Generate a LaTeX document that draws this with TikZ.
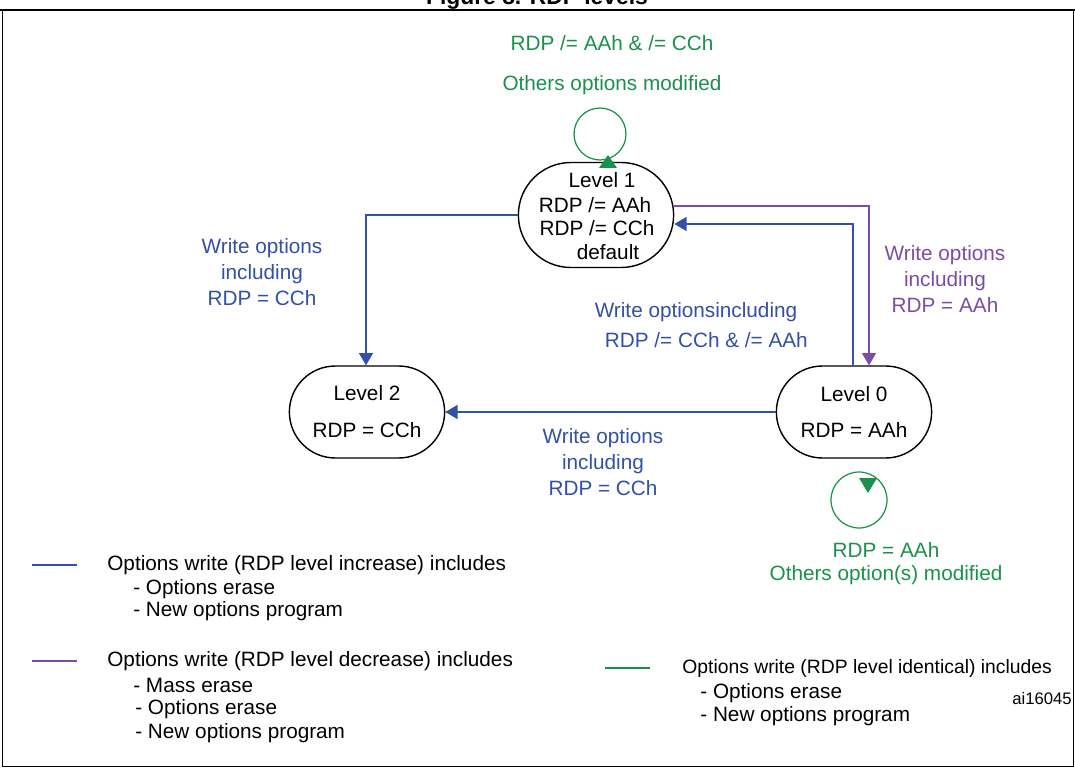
\documentclass[tikz,border=0pt]{standalone}
\usepackage{fontspec}
\setmainfont{Liberation Sans}
\usetikzlibrary{arrows.meta,shapes.misc}
\definecolor{incblue}{RGB}{50,80,165}
\definecolor{decpurple}{RGB}{125,75,165}
\definecolor{samegreen}{RGB}{25,145,75}
\begin{document}
\begin{tikzpicture}[x=0.02cm, y=-0.02cm,
    font=\fontsize{11.8}{13}\selectfont,
    level/.style={rounded rectangle, draw, thick, minimum width=3.34cm, minimum height=1.84cm, align=center},
    trans/.style={-{Triangle[length=7pt,width=8pt]}, line width=0.9pt},
    lbl/.style={align=center, inner sep=0pt}]
     \useasboundingbox (0,0) rectangle (1075,770);
     \draw[thick] (0,10) -- (1075,10);
     \draw (2,10) rectangle (1073,766);
     \node[font=\bfseries\fontsize{13}{15}\selectfont] (title) at (537,-1) {Figure 8. RDP levels};

     \node[level, minimum height=2.1cm] (lvl1) at (596,215) {};
     \node (l1a) at (602,180) {Level 1};
     \node (l1b) at (595,205) {RDP /= AAh};
     \node (l1c) at (597,228) {RDP /= CCh};
     \node (l1d) at (608,252) {default};
     \node[level] (lvl2) at (367,412) {Level 2\\[8pt]RDP = CCh};
     \node[level] (lvl0) at (854,412) {Level 0\\[8pt]RDP = AAh};

     \coordinate (c12) at (366,215);
     \coordinate (c01) at (853,224);
     \coordinate (c10) at (869,206);

     % transitions
     \draw[trans, incblue] (lvl1.west |- c12) -- (c12) -- (lvl2.north -| c12);
     \draw[trans, incblue] (lvl0.north -| c01) -- (c01) -- (lvl1.east |- c01);
     \draw[trans, decpurple, line width=0.7pt] (lvl1.east |- c10) -- (c10) -- (lvl0.north -| c10);
     \draw[trans, incblue] (lvl0.west) -- (lvl2.east);

     \node[lbl, incblue] (t12) at (262,272) {Write options\\[2pt]including\\[2pt]RDP = CCh};
     \node[lbl, incblue] (t01) at (696,325) {Write optionsincluding\\[4pt]\hspace*{1em}RDP /= CCh \& /= AAh};
     \node[lbl, decpurple] (t10) at (945,279) {Write options\\[2pt]including\\[2pt]RDP = AAh};
     \node[lbl, incblue] (t02) at (603,462) {Write options\\[2pt]including\\[2pt]RDP = CCh};

     % self loops
     \draw[samegreen, line width=0.7pt] (600,134) circle (26);
     \fill[samegreen] (608,155) -- (599,168) -- (617,168) -- cycle;
     \node[lbl, samegreen] (s1) at (612,65) {RDP /= AAh \& /= CCh\\[10pt]Others options modified};
     \draw[samegreen, line width=0.7pt] (859,500) circle (28);
     \fill[samegreen] (868,493) -- (859,478) -- (877,478) -- cycle;
     \node[lbl, samegreen] (s0) at (886,564) {RDP = AAh\\[0pt]Others option(s) modified};

     % legend
     \draw[incblue, line width=0.9pt] (32,565) -- (77,565);
     \node[anchor=west, inner sep=0pt] (leg1) at (107,565) {Options write (RDP level increase) includes};
     \node[anchor=west, inner sep=0pt] (leg1a) at (133,589) {- Options erase};
     \node[anchor=west, inner sep=0pt] (leg1b) at (133,611) {- New options program};
     \draw[decpurple, line width=0.9pt] (32,661) -- (77,661);
     \node[anchor=west, inner sep=0pt] (leg2) at (107,661) {Options write (RDP level decrease) includes};
     \node[anchor=west, inner sep=0pt] (leg2a) at (133,685) {- Mass erase};
     \node[anchor=west, inner sep=0pt] (leg2b) at (135,709) {- Options erase};
     \node[anchor=west, inner sep=0pt] (leg2c) at (135,733) {- New options program};
     \draw[samegreen, line width=0.9pt] (605,668) -- (650,668);
     \node[anchor=west, inner sep=0pt, font=\fontsize{11}{13}\selectfont] (leg3) at (682,668) {Options write (RDP level identical) includes};
     \node[anchor=west, inner sep=0pt] (leg3a) at (700,693) {- Options erase};
     \node[anchor=west, inner sep=0pt] (leg3b) at (700,716) {- New options program};
     \node[font=\fontsize{9.5}{10}\selectfont] (ref) at (1042,699) {ai16045};
\end{tikzpicture}
\end{document}
